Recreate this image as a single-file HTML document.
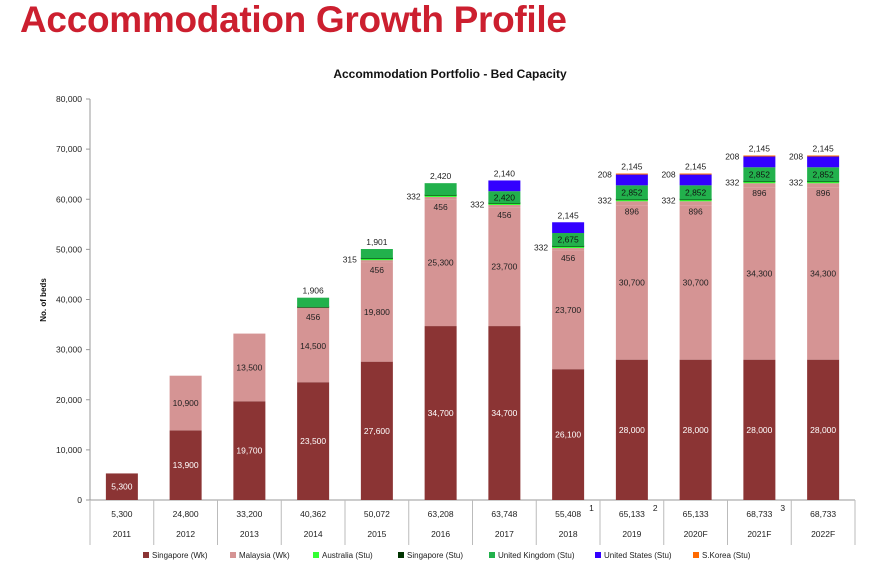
<!DOCTYPE html>
<html><head><meta charset="utf-8"><style>
body{margin:0;background:#fff;font-family:"Liberation Sans",sans-serif;}
#wrap{position:relative;width:872px;height:573px;overflow:hidden}
h1{position:absolute;left:20px;top:-1px;margin:0;font-size:37px;font-weight:bold;color:#cc1f2f;letter-spacing:-0.3px}
svg{position:absolute;left:0;top:0}
text{font-family:"Liberation Sans",sans-serif}
</style></head><body>
<div id="wrap">
<h1>Accommodation Growth Profile</h1>
<svg id="c" width="872" height="573"></svg>
</div>
<script>
const years=["2011","2012","2013","2014","2015","2016","2017","2018","2019","2020F","2021F","2022F"];
const sgWk=[5300,13900,19700,23500,27600,34700,34700,26100,28000,28000,28000,28000];
const myWk=[0,10900,13500,14500,19800,25300,23700,23700,30700,30700,34300,34300];
const myWk2=[0,0,0,456,456,456,456,456,896,896,896,896];
const auStu=[0,0,0,0,315,332,332,332,332,332,332,332];
const ukStu=[0,0,0,1906,1901,2420,2420,2675,2852,2852,2852,2852];
const usStu=[0,0,0,0,0,0,2140,2145,2145,2145,2145,2145];
const krStu=[0,0,0,0,0,0,0,0,208,208,208,208];
const totals=["5,300","24,800","33,200","40,362","50,072","63,208","63,748","55,408","65,133","65,133","68,733","68,733"];
const notes=["","","","","","","","1","2","","3",""];
const yTicks=[0,10000,20000,30000,40000,50000,60000,70000,80000];
const legendNames=["Singapore (Wk)","Malaysia (Wk)","Australia (Stu)","Singapore (Stu)","United Kingdom (Stu)","United States (Stu)","S.Korea (Stu)"];
const legendColors=["#8b3434","#d59494","#33ff33","#003300","#22b14c","#3300ff","#ff6a00"];

const svg=document.getElementById('c');const NS="http://www.w3.org/2000/svg";
function el(t,a,txt){const e=document.createElementNS(NS,t);for(const k in a)e.setAttribute(k,a[k]);if(txt!==undefined)e.textContent=txt;svg.appendChild(e);return e;}
const x0=90,x1=855,yB=500,yT=99,yMax=80000;
const y=v=>yB-(v/yMax)*(yB-yT);
const cw=(x1-x0)/years.length;
const cx=i=>x0+cw*(i+0.5);
const bw=32;
const fmt=v=>v.toLocaleString('en-US');

let t=el('text',{x:450,y:78,'text-anchor':'middle','font-size':12,'font-weight':'bold',fill:'#111'},'Accommodation Portfolio - Bed Capacity');

t=el('text',{x:46,y:300,'text-anchor':'middle','font-size':8,'font-weight':'bold',fill:'#111',transform:'rotate(-90 46 300)'},'No. of beds');

let a=el('line',{x1:x0,y1:yT,x2:x0,y2:yB,stroke:'#999','stroke-width':1});

yTicks.forEach(v=>{
  el('line',{x1:x0-4,y1:y(v),x2:x0,y2:y(v),stroke:'#999'});
  const l=el('text',{x:x0-8,y:y(v)+3,'text-anchor':'end','font-size':8.5,fill:'#222'},fmt(v));
  
});
a=el('line',{x1:x0-4,y1:yB,x2:x1,y2:yB,stroke:'#999'});

for(let i=0;i<=years.length;i++){el('line',{x1:x0+cw*i,y1:yB,x2:x0+cw*i,y2:545,stroke:'#bbb'});}

function seg(i,base,v,color,name){
  if(!v)return base;
  const r=el('rect',{x:cx(i)-bw/2,y:y(base+v),width:bw,height:y(base)-y(base+v),fill:color});
  
  return base+v;
}
function lab(x,yy,s,anchor,col,name){const l=el('text',{x:x,y:yy,'text-anchor':anchor,'font-size':8.5,fill:col},s);
  }
years.forEach((yr,i)=>{
  const c=cx(i);let b=0;
  b=seg(i,b,sgWk[i],legendColors[0],'bar-singapore-wk-'+yr);
  lab(c,(y(0)+y(sgWk[i]))/2+3,fmt(sgWk[i]),'middle','#fff','label-singapore-wk');
  const bm=b;b=seg(i,b,myWk[i],legendColors[1],'bar-malaysia-wk-'+yr);
  if(myWk[i])lab(c,(y(bm)+y(b))/2+3,fmt(myWk[i]),'middle','#222','label-malaysia-wk');
  b=seg(i,b,myWk2[i],legendColors[1],'bar-malaysia-wk2-'+yr);
  if(myWk2[i])lab(c,y(b)+13,fmt(myWk2[i]),'middle','#222','label-malaysia-wk2');
  b=seg(i,b,auStu[i],legendColors[2],'bar-australia-stu-'+yr);
  if(auStu[i])lab(c-bw/2-4,y(b)+4,fmt(auStu[i]),'end','#222','label-australia-stu');
  if(ukStu[i]){
    const r=el('rect',{x:c-bw/2,y:y(b)-1,width:bw,height:1.5,fill:legendColors[3]});
    
  }
  const bu=b;b=seg(i,b,ukStu[i],legendColors[4],'bar-uk-stu-'+yr);
  if(ukStu[i]){
    if(usStu[i])lab(c,(y(bu)+y(b))/2+3,fmt(ukStu[i]),'middle','#111','label-uk-stu');
    else lab(c,y(b)-4,fmt(ukStu[i]),'middle','#222','label-uk-stu');
  }
  b=seg(i,b,usStu[i],legendColors[5],'bar-us-stu-'+yr);
  b=seg(i,b,krStu[i],legendColors[6],'bar-skorea-stu-'+yr);
  if(usStu[i])lab(c,y(b)-4,fmt(usStu[i]),'middle','#222','label-us-stu');
  if(krStu[i])lab(c-bw/2-4,y(b)+4,fmt(krStu[i]),'end','#222','label-skorea-stu');
  lab(c,517,totals[i],'middle','#222','total-label');
  if(notes[i])lab(c+21,511,notes[i],'start','#222','footnote-marker');
  lab(c,537,yr,'middle','#222','x-tick-label');
});
const lx=[143,230,313,398,489,595,693];
legendNames.forEach((n,k)=>{
  const r=el('rect',{x:lx[k],y:552,width:6,height:6,fill:legendColors[k]});
  
  const l=el('text',{x:lx[k]+9,y:558,'font-size':8,fill:'#222'},n);
  
});
</script>
</body></html>
